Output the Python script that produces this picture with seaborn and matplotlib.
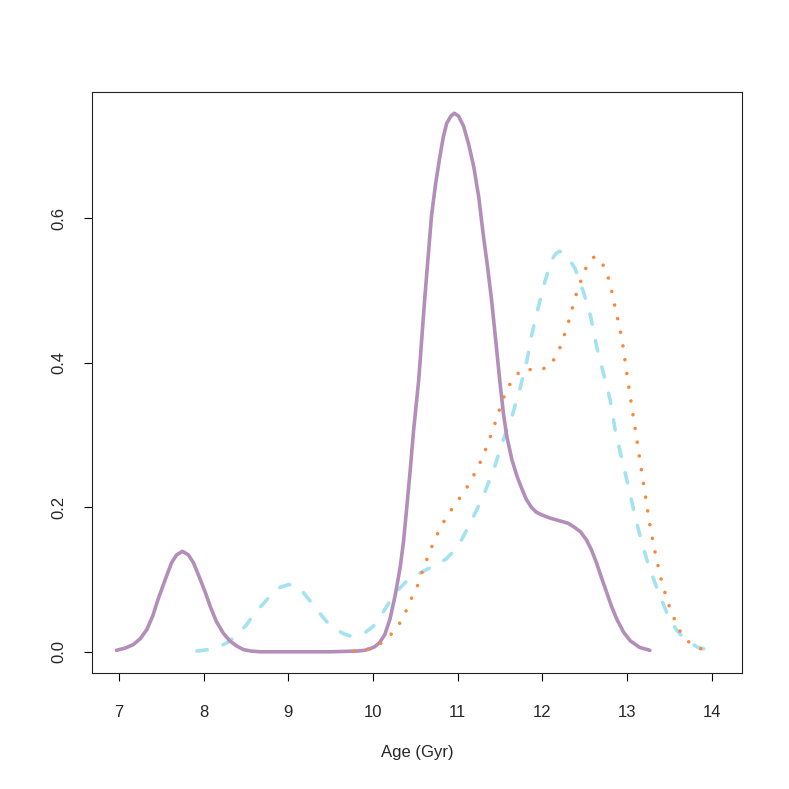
import matplotlib
matplotlib.use("Agg")
import matplotlib.pyplot as plt
import seaborn as sns
import pandas as pd

# density curves (age in Gyr vs density)
purple_age = [6.97, 7.07, 7.17, 7.25, 7.33, 7.40, 7.46, 7.54, 7.62, 7.68, 7.75,
              7.82, 7.88, 7.95, 8.02, 8.08, 8.15, 8.23, 8.31, 8.39, 8.47, 8.56,
              8.67, 9.00, 9.50, 9.81, 9.90, 9.96, 10.02, 10.08, 10.14, 10.20,
              10.26, 10.32, 10.36, 10.40, 10.44, 10.48, 10.54, 10.61, 10.69,
              10.74, 10.79, 10.83, 10.87, 10.92, 10.96, 11.01, 11.07, 11.13,
              11.19, 11.25, 11.30, 11.35, 11.40, 11.45, 11.50, 11.54, 11.58,
              11.64, 11.70, 11.76, 11.81, 11.87, 11.93, 12.00, 12.09, 12.21,
              12.30, 12.37, 12.45, 12.52, 12.58, 12.64, 12.70, 12.76, 12.82,
              12.88, 12.96, 13.04, 13.15, 13.27]
purple_dens = [0.002, 0.005, 0.010, 0.018, 0.031, 0.050, 0.072, 0.098, 0.123,
               0.134, 0.139, 0.134, 0.123, 0.103, 0.082, 0.062, 0.042, 0.026,
               0.015, 0.008, 0.003, 0.001, 0.000, 0.000, 0.000, 0.001, 0.002,
               0.004, 0.007, 0.013, 0.024, 0.045, 0.077, 0.116, 0.152, 0.201,
               0.252, 0.307, 0.376, 0.487, 0.602, 0.648, 0.685, 0.712, 0.731,
               0.741, 0.745, 0.741, 0.727, 0.702, 0.671, 0.628, 0.579, 0.535,
               0.487, 0.430, 0.372, 0.330, 0.298, 0.266, 0.243, 0.225, 0.211,
               0.200, 0.193, 0.189, 0.185, 0.181, 0.178, 0.173, 0.166, 0.155,
               0.141, 0.123, 0.102, 0.082, 0.062, 0.045, 0.027, 0.015, 0.006,
               0.002]

cyan_age = [7.92, 8.05, 8.17, 8.27, 8.35, 8.43, 8.51, 8.60, 8.70, 8.80, 8.90, 9.00,
            9.08, 9.17, 9.26, 9.36, 9.45, 9.57, 9.65, 9.73, 9.81, 9.90, 10.00,
            10.10, 10.20, 10.30, 10.40, 10.51, 10.67, 10.79, 10.87, 10.95, 11.05,
            11.15, 11.30, 11.42, 11.54, 11.64, 11.74, 11.82, 11.87, 11.95, 12.03,
            12.11, 12.16, 12.20, 12.25, 12.29, 12.34, 12.39, 12.49, 12.57, 12.64,
            12.72, 12.80, 12.86, 12.94, 13.02, 13.09, 13.17, 13.25, 13.35, 13.47,
            13.58, 13.66, 13.75, 13.84, 13.94, 14.08]
cyan_dens = [0.001, 0.003, 0.007, 0.012, 0.019, 0.027, 0.038, 0.053, 0.066, 0.079,
             0.089, 0.093, 0.092, 0.083, 0.070, 0.055, 0.042, 0.031, 0.025, 0.022,
             0.022, 0.026, 0.035, 0.051, 0.070, 0.086, 0.098, 0.106, 0.116, 0.123,
             0.129, 0.139, 0.156, 0.178, 0.215, 0.250, 0.294, 0.325, 0.366, 0.404,
             0.436, 0.476, 0.512, 0.542, 0.551, 0.554, 0.552, 0.547, 0.539, 0.529,
             0.496, 0.464, 0.423, 0.386, 0.349, 0.307, 0.266, 0.227, 0.190, 0.153,
             0.121, 0.089, 0.054, 0.031, 0.020, 0.012, 0.006, 0.003, 0.001]

orange_age = [9.78, 9.96, 10.11, 10.23, 10.33, 10.40, 10.47, 10.54, 10.59, 10.65,
              10.71, 10.78, 10.86, 10.95, 11.05, 11.14, 11.22, 11.29, 11.35, 11.41,
              11.46, 11.51, 11.57, 11.65, 11.76, 11.92, 12.07, 12.17, 12.23, 12.28,
              12.33, 12.37, 12.42, 12.48, 12.54, 12.61, 12.67, 12.75, 12.80, 12.87,
              12.94, 13.01, 13.06, 13.11, 13.16, 13.21, 13.26, 13.32, 13.39, 13.48,
              13.60, 13.70, 13.83, 13.92]
orange_dens = [0.001, 0.004, 0.013, 0.026, 0.042, 0.059, 0.078, 0.095, 0.114, 0.132,
               0.150, 0.168, 0.185, 0.201, 0.217, 0.233, 0.251, 0.268, 0.286, 0.305,
               0.323, 0.341, 0.360, 0.377, 0.391, 0.390, 0.393, 0.410, 0.427, 0.446,
               0.464, 0.483, 0.502, 0.521, 0.538, 0.546, 0.545, 0.528, 0.509, 0.471,
               0.433, 0.375, 0.336, 0.298, 0.259, 0.221, 0.182, 0.144, 0.106, 0.069,
               0.033, 0.016, 0.006, 0.002]

x_ticks = [7, 8, 9, 10, 11, 12, 13, 14]
y_ticks = [0.0, 0.2, 0.4, 0.6]

sns.set_style("white")
plt.rcParams["font.family"] = ["Liberation Sans", "DejaVu Sans"]
plt.rcParams["lines.scale_dashes"] = False

fig = plt.figure(figsize=(7.89, 7.89), dpi=100)
ax = fig.add_axes([0.117, 0.1466, 0.823, 0.7372])

df_cyan = pd.DataFrame({"age": cyan_age, "density": cyan_dens})
df_purple = pd.DataFrame({"age": purple_age, "density": purple_dens})
df_orange = pd.DataFrame({"age": orange_age, "density": orange_dens})

sns.lineplot(data=df_cyan, x="age", y="density", ax=ax, color="#A3E3F1",
             linewidth=2.6, linestyle=(0, (7.5, 12.0)), dash_capstyle="round",
             dash_joinstyle="round")
sns.lineplot(data=df_purple, x="age", y="density", ax=ax, color="#B28EB9",
             linewidth=2.6, solid_capstyle="round", solid_joinstyle="round")
sns.lineplot(data=df_orange, x="age", y="density", ax=ax, color="#F7883F",
             linewidth=2.6, linestyle=(0, (0.01, 10.0)), dash_capstyle="round")

ax.set_xlim(6.685, 14.354)
ax.set_ylim(-0.0298, 0.7748)
ax.set_xticks(x_ticks)
ax.set_xticklabels([str(t) for t in x_ticks])
ax.set_yticks(y_ticks)
ax.set_yticklabels(["%.1f" % t for t in y_ticks], rotation=90, va="center")
ax.tick_params(axis="both", direction="out", length=6, width=0.8, color="black",
               labelsize=12, bottom=True, left=True)
ax.tick_params(axis="x", pad=17)
ax.tick_params(axis="y", pad=13)
ax.set_xlabel("Age (Gyr)", fontsize=12, labelpad=18)
ax.set_ylabel("")
for sp in ax.spines.values():
    sp.set_visible(True)
    sp.set_color("#222222")
    sp.set_linewidth(0.8)

fig.savefig("out.png", dpi=100, facecolor="white")
